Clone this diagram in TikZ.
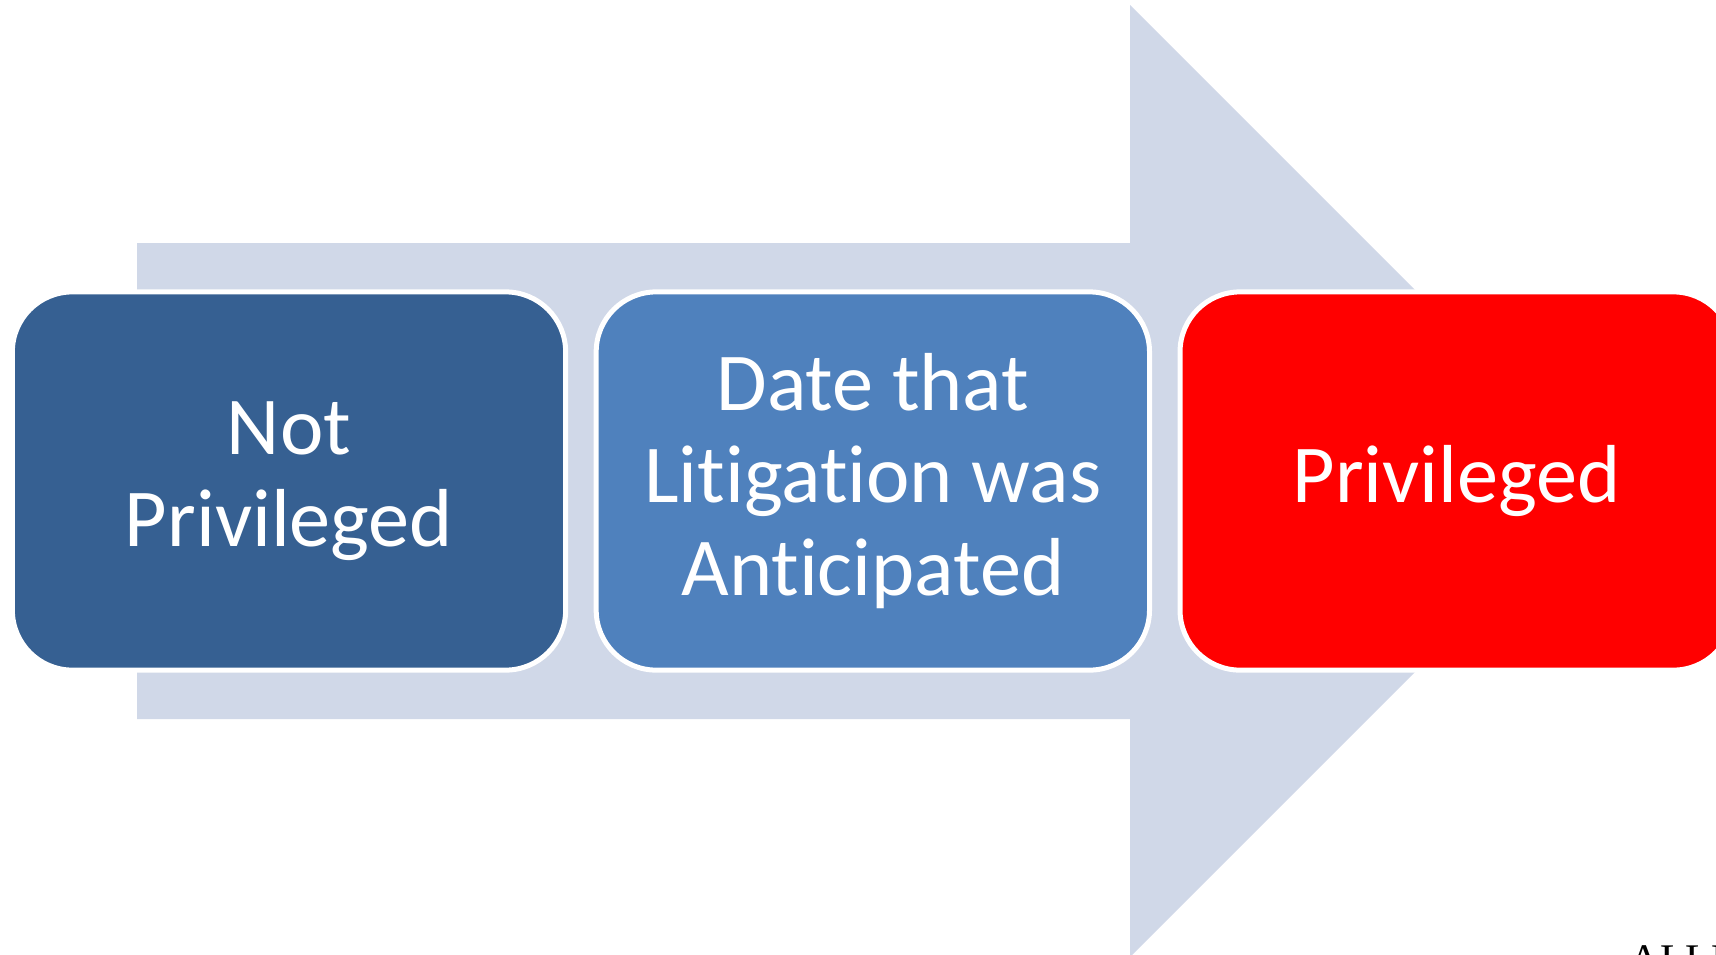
\documentclass[tikz,border=0pt]{standalone}
\usepackage{fontspec}
\setmainfont{Carlito}[Ligatures=NoCommon]
\newfontfamily\footfont{Liberation Serif}
\usetikzlibrary{
    positioning     % tikz's library for relative placement
}
\newcommand{\boxwidth}{5.53cm}
\newcommand{\boxheight}{3.78cm}
\definecolor{arrowgray}{HTML}{D0D8E8}
\definecolor{darkblue}{HTML}{366092}
\definecolor{midblue}{HTML}{4F81BD}
\tikzset{
    stage node/.style={
        rectangle, rounded corners=0.6cm,
        minimum width=\boxwidth, minimum height=\boxheight,
        draw=white, line width=0.05cm,
        text=white, align=center,
        font=\fontsize{23.4}{26.3}\selectfont
    },
    back arrow/.style={fill=arrowgray, draw=none}
}

\begin{document}
\begin{tikzpicture}[x=0.01cm, y=-0.01cm, node distance=0.255cm]
        % canvas
        \useasboundingbox (0,0) rectangle (1716,954);
        \clip (0,0) rectangle (1716,954);

        % big arrow behind the boxes
        \path[back arrow] (137,243) -- (1130,243) -- (1130,5) -- (1606,481)
            -- (1130,957) -- (1130,719) -- (137,719) -- cycle;

        % stage boxes
        \node[stage node, fill=darkblue] (notpriv) at (289,481) {Not\\Privileged};
        \node[stage node, fill=midblue, right=of notpriv] (anticipated)
            {Date that\\Litigation was\\Anticipated};
        \node[stage node, fill=red, right=of anticipated] (priv) {Privileged};

        % cut-off footer text
        \node[anchor=north west, inner sep=0pt, font=\footfont\fontsize{12}{14}\selectfont]
            (footer) at (1629,945) {ALLE};
\end{tikzpicture}
\end{document}
